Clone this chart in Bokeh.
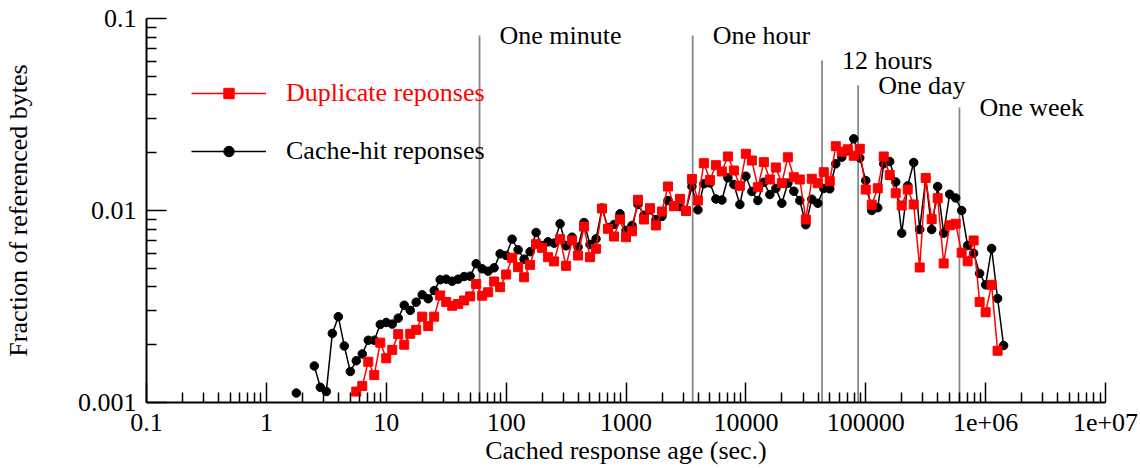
import math
from bokeh.plotting import figure
from bokeh.models import FixedTicker, Range1d, Legend, LegendItem
from bokeh.core.properties import value
from bokeh.embed import file_html
from bokeh.resources import INLINE

nan = float("nan")

# log-spaced age bins: 20 bins per decade (bin index i -> 10**(i/20) seconds)
bin_index = list(range(5, 124))
ages = [10 ** (i / 20) for i in bin_index]

cache_hit = [
    0.00112, nan, nan, 0.00155, 0.00120, 0.00114, 0.00229, 0.00280, 0.00197, 0.00145,
    0.00165, 0.00179, 0.00211, 0.00211, 0.00255, 0.00261, 0.00256, 0.00275, 0.00321, 0.00302,
    0.00333, 0.00364, 0.00347, 0.00383, 0.00436, 0.00439, 0.00428, 0.00439, 0.00453, 0.00455,
    0.00528, 0.00497, 0.00483, 0.00503, 0.00595, 0.00583, 0.00709, 0.00624, 0.00558, 0.00610,
    0.00768, 0.00655, 0.00687, 0.00676, 0.00853, 0.00655, 0.00726, 0.00644, 0.00866, 0.00665,
    0.00712, 0.01030, 0.00813, 0.00846, 0.00961, 0.00787, 0.00836, 0.01075, 0.00945, 0.01008,
    0.00895, 0.00931, 0.01127, 0.01058, 0.01049, 0.01000, 0.01334, 0.01008, 0.01378, 0.01391,
    0.01148, 0.01134, 0.01480, 0.01366, 0.01075, 0.01509, 0.01256, 0.01127, 0.01403, 0.01211,
    0.01302, 0.01091, 0.01388, 0.01260, 0.01127, 0.00843, 0.01145, 0.01091, 0.01302, 0.01297,
    0.01751, 0.01895, 0.02046, 0.02362, 0.01877, 0.01433, 0.01000, 0.01033, 0.01751, 0.01800,
    0.01407, 0.00762, 0.01345, 0.01778, 0.00796, 0.01477, 0.00796, 0.01334, 0.00762, 0.01216,
    0.01162, 0.01000, 0.00657, 0.00599, 0.00470, 0.00410, 0.00634, 0.00348, 0.00198,
]

duplicate = [
    nan, nan, nan, nan, nan, nan, nan, nan, nan, nan,
    0.00114, 0.00122, 0.00163, 0.00139, 0.00205, 0.00170, 0.00188, 0.00227, 0.00200, 0.00228,
    0.00239, 0.00280, 0.00250, 0.00280, 0.00361, 0.00334, 0.00319, 0.00326, 0.00340, 0.00357,
    0.00414, 0.00360, 0.00375, 0.00427, 0.00399, 0.00464, 0.00567, 0.00507, 0.00449, 0.00521,
    0.00668, 0.00639, 0.00571, 0.00543, 0.00709, 0.00515, 0.00698, 0.00583, 0.00825, 0.00571,
    0.00632, 0.01024, 0.00803, 0.00732, 0.00898, 0.00726, 0.00780, 0.01137, 0.00898, 0.01028,
    0.00836, 0.00988, 0.01334, 0.01053, 0.01150, 0.00994, 0.01459, 0.01127, 0.01764, 0.01441,
    0.01722, 0.01596, 0.01911, 0.01615, 0.01345, 0.01974, 0.01821, 0.01322, 0.01785, 0.01450,
    0.01675, 0.01388, 0.01893, 0.01491, 0.01450, 0.00898, 0.01463, 0.01388, 0.01583, 0.01421,
    0.02162, 0.02024, 0.02083, 0.01927, 0.02096, 0.01286, 0.01072, 0.01306, 0.01911, 0.01531,
    0.01230, 0.01062, 0.01286, 0.01075, 0.00505, 0.01477, 0.00901, 0.01159, 0.00530, 0.00838,
    0.00853, 0.00603, 0.00544, 0.00698, 0.00334, 0.00295, 0.00410, 0.00186, nan,
]

event_ages = [60, 3600, 43200, 86400, 604800]
event_labels = ["One minute", "One hour", "12 hours", "One day", "One week"]
event_tops = [0.0816, 0.0816, 0.0604, 0.0448, 0.0344]

x_ticks = [0.1, 1, 10, 100, 1000, 10000, 100000, 1e6, 1e7]
x_tick_labels = ["0.1", "1", "10", "100", "1000", "10000", "100000", "1e+06", "1e+07"]
y_ticks = [0.001, 0.01, 0.1]
y_tick_labels = ["0.001", "0.01", "0.1"]

FONT = "Liberation Serif"
FS = "26px"

x_minor = [m * 10 ** e for e in range(-1, 7) for m in range(2, 10)]
y_minor = [m * 10 ** e for e in range(-3, -1) for m in range(2, 10)]

p = figure(
    width=1140, height=468,
    x_axis_type="log", y_axis_type="log",
    x_range=Range1d(x_ticks[0], x_ticks[-1]), y_range=Range1d(y_ticks[0], y_ticks[-1]),
    output_backend="svg", toolbar_location=None,
    min_border_left=145, min_border_right=35, min_border_top=18, min_border_bottom=66,
)
p.outline_line_color = None
p.grid.visible = False
p.background_fill_color = "white"
p.border_fill_color = "white"

p.xaxis[0].ticker = FixedTicker(ticks=x_ticks, minor_ticks=x_minor)
p.yaxis[0].ticker = FixedTicker(ticks=y_ticks, minor_ticks=y_minor)
p.xaxis[0].major_label_overrides = {t: s for t, s in zip(x_ticks, x_tick_labels)}
p.yaxis[0].major_label_overrides = {t: s for t, s in zip(y_ticks, y_tick_labels)}
p.xaxis[0].axis_label = "Cached response age (sec.)"
p.yaxis[0].axis_label = "Fraction of referenced bytes"

for ax in (p.xaxis[0], p.yaxis[0]):
    ax.major_tick_in = 20
    ax.major_tick_out = 0
    ax.minor_tick_in = 10
    ax.minor_tick_out = 0
    ax.axis_line_width = 2
    ax.axis_line_color = "black"
    ax.major_tick_line_width = 1.5
    ax.minor_tick_line_width = 1.5
    ax.major_tick_line_color = "black"
    ax.minor_tick_line_color = "black"
    ax.major_label_text_font = FONT
    ax.major_label_text_font_size = FS
    ax.major_label_text_color = "black"
    ax.axis_label_text_font = FONT
    ax.axis_label_text_font_size = FS
    ax.axis_label_text_font_style = "normal"
    ax.axis_label_text_color = "black"

p.xaxis[0].major_label_standoff = 11
p.xaxis[0].axis_label_standoff = 2
p.yaxis[0].major_label_standoff = 10
p.yaxis[0].axis_label_standoff = 42

# reference time markers
p.segment(x0=event_ages, y0=[y_ticks[0]] * len(event_ages), x1=event_ages, y1=event_tops,
          line_color="#888888", line_width=1.8)
p.text(x=event_ages, y=event_tops, text=event_labels, x_offset=20,
       text_align="left", text_baseline="middle",
       text_font=value(FONT), text_font_size=value(FS), text_color="black")

# series: black first, red on top
rb_line = p.line(ages, cache_hit, line_color="black", line_width=1.5)
rb_pts = p.scatter(ages, cache_hit, marker="circle", size=8.5, fill_color="black", line_color="black")
rr_line = p.line(ages, duplicate, line_color="red", line_width=1.5)
rr_pts = p.scatter(ages, duplicate, marker="square", size=9, fill_color="red", line_color="red")

def make_legend(label, renderers, color, loc):
    return Legend(
        items=[LegendItem(label=label, renderers=renderers)],
        location=loc, glyph_width=75, glyph_height=26, label_height=26,
        label_standoff=20, padding=0, margin=0, spacing=0,
        border_line_color=None, background_fill_alpha=0,
        label_text_font=FONT, label_text_font_size=FS, label_text_color=color,
        label_text_baseline="middle",
    )

p.add_layout(make_legend("Duplicate reponses", [rr_line, rr_pts], "red", (45, 294)))
p.add_layout(make_legend("Cache-hit reponses", [rb_line, rb_pts], "black", (45, 236)))

open("out.html", "w").write(file_html(p, INLINE))
